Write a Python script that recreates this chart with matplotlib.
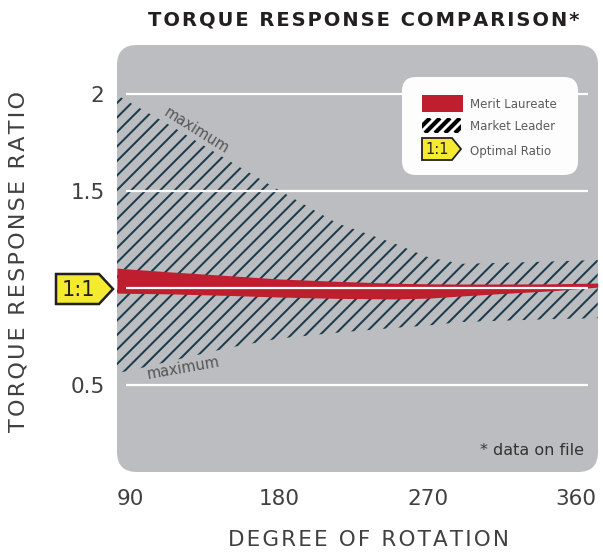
import matplotlib
matplotlib.use('Agg')
import numpy as np
import matplotlib.pyplot as plt
from matplotlib.collections import LineCollection
from matplotlib.patches import FancyBboxPatch, Polygon, Rectangle

# degrees of rotation
rotation = [82, 90, 115, 150, 180, 215, 250, 270, 290, 315, 345, 373]

# market leader band (hatched)
leader_high = [1.995, 1.955, 1.835, 1.655, 1.505, 1.335, 1.23, 1.16, 1.125, 1.13, 1.137, 1.145]
leader_low = [0.562, 0.575, 0.625, 0.693, 0.74, 0.77, 0.795, 0.807, 0.825, 0.832, 0.84, 0.845]

# merit laureate band (red)
merit_high = [1.103, 1.098, 1.083, 1.064, 1.047, 1.035, 1.025, 1.022, 1.021, 1.021, 1.022, 1.026]
merit_low = [0.974, 0.973, 0.970, 0.962, 0.954, 0.947, 0.944, 0.948, 0.959, 0.972, 0.986, 1.005]

x_ticks = [90, 180, 270, 360]
y_ticks = [0.5, 1.5, 2]
y_ticklabels = ['0.5', '1.5', '2']
grid_values = [0.5, 1, 1.5, 2]

legend_labels = ['Merit Laureate', 'Market Leader', 'Optimal Ratio']

RED = '#be1e2d'
GREY = '#bcbdc0'
HATCH = '#1b3c4c'
YELLOW = '#f4eb30'
DARK = '#231f20'
TEXT = '#404040'

HS = '\u200a'


def spaced(s):
    return HS.join(s)


plt.rcParams['font.family'] = 'DejaVu Sans'

W, H = 603, 552
fig = plt.figure(figsize=(W / 100, H / 100), dpi=100)

# pixel-space layer behind the plot
back = fig.add_axes([0, 0, 1, 1], zorder=0)
back.set_xlim(0, W)
back.set_ylim(H, 0)
back.axis('off')
back.add_patch(FancyBboxPatch((117, 45), 481, 427, boxstyle='round,pad=0,rounding_size=20',
                              facecolor=GREY, edgecolor='none'))

ax = fig.add_axes([117 / W, (H - 472) / H, 481 / W, 427 / H], zorder=1)
ax.set_facecolor('none')
ax.set_xlim(82, 373.2)
ax.set_ylim(0.052, 2.253)

# market leader: diagonal hatch lines clipped to the band
band = ax.fill_between(rotation, leader_low, leader_high, facecolor='none', linewidth=0)
starts = np.arange(117 - 427, 600, 14.5)
segs = [[(c, 472), (c + 427, 45)] for c in starts]
hatch = LineCollection(segs, colors=HATCH, linewidths=1.45, transform=back.transData, zorder=2)
ax.add_collection(hatch, autolim=False)
hatch.set_clip_path(band.get_paths()[0], band.get_transform())

ax.fill_between(rotation, merit_low, merit_high, color=RED, linewidth=0, zorder=3)
ax.hlines(grid_values, 87.5, 367, colors='white', linewidth=1.6, zorder=4)

ax.text(130, 1.81, 'maximum', rotation=-32, fontsize=10.5, color='#555555',
        ha='center', va='center', rotation_mode='anchor')
ax.text(122, 0.585, 'maximum', rotation=10, fontsize=10.5, color='#555555',
        ha='center', va='center', rotation_mode='anchor')
ax.text(0.97, 0.05, '* data on file', transform=ax.transAxes, fontsize=11.5, color='#333333',
        ha='right', va='center')

ax.set_xticks(x_ticks)
ax.set_xticklabels([str(t) for t in x_ticks])
ax.set_yticks(y_ticks)
ax.set_yticklabels(y_ticklabels)
ax.tick_params(length=0, labelsize=15.5, labelcolor=TEXT)
ax.tick_params(axis='x', pad=12)
ax.tick_params(axis='y', pad=9)
for s in ax.spines.values():
    s.set_visible(False)

# pixel-space layer in front: title, labels, tags, legend
front = fig.add_axes([0, 0, 1, 1], zorder=2)
front.set_xlim(0, W)
front.set_ylim(H, 0)
front.axis('off')
front.patch.set_alpha(0)

front.text(364, 20, spaced('TORQUE RESPONSE COMPARISON*'), fontsize=14, fontweight='bold',
           color=DARK, ha='center', va='center')
front.text(369, 540, spaced('DEGREE OF ROTATION'), fontsize=15.5, color=TEXT,
           ha='center', va='center')
front.text(19, 261, spaced('TORQUE RESPONSE RATIO'), fontsize=16, color=TEXT, rotation=90,
           ha='center', va='center')

# 1:1 tag on the axis
front.add_patch(Polygon([(56, 274), (99, 274), (113, 289), (99, 304), (56, 304)],
                        closed=True, facecolor=YELLOW, edgecolor=DARK, linewidth=1.8))
front.text(78, 289.5, '1:1', fontsize=15, color=DARK, ha='center', va='center')

# legend box
front.add_patch(FancyBboxPatch((402, 77), 176, 98, boxstyle='round,pad=0,rounding_size=14',
                               facecolor='#fdfdfd', edgecolor='none'))
front.add_patch(Rectangle((422, 95), 41, 17, facecolor=RED, edgecolor='none'))
swatch = Rectangle((422, 118), 39, 15, facecolor='none', edgecolor='none')
front.add_patch(swatch)
for c in range(405, 470, 10):
    ln, = front.plot([c, c + 15], [133, 118], color='black', linewidth=3, solid_capstyle='butt')
    ln.set_clip_path(swatch)
front.add_patch(Polygon([(422, 138), (452, 138), (461, 149), (452, 160), (422, 160)],
                        closed=True, facecolor=YELLOW, edgecolor=DARK, linewidth=1.3))
front.text(437, 149.5, '1:1', fontsize=10.5, color=DARK, ha='center', va='center')
for lab, y in zip(legend_labels, [104, 127, 151]):
    front.text(470, y, lab, fontsize=8.5, color='#5a5a5a', ha='left', va='center')

fig.savefig('out.png', dpi=100)
